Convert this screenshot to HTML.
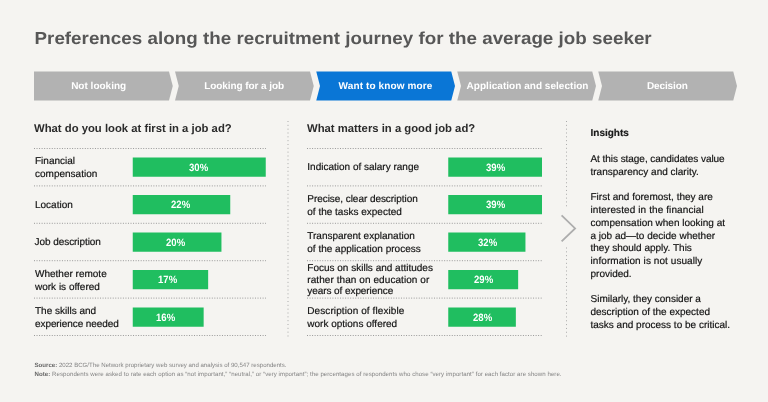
<!DOCTYPE html>
<html lang="en">
<head>
<meta charset="utf-8">
<title>Preferences along the recruitment journey</title>
<style>
*{margin:0;padding:0;box-sizing:border-box}
html,body{width:768px;height:402px;overflow:hidden;background:#f5f4f1}
body{position:relative;font-family:"Liberation Sans",Arial,sans-serif;color:#2b2b2b;text-rendering:geometricPrecision}
.abs{position:absolute;white-space:nowrap}
#title{left:34.5px;top:27px;font-size:18.8px;letter-spacing:0.02px;line-height:22px;font-weight:bold;color:#575757;transform-origin:0 17.5px;transform:scaleY(.925)}
#wrap{position:absolute;left:0;top:0;width:768px;height:402px;will-change:transform}
svg.layer{position:absolute;left:0;top:0;width:768px;height:402px}
.step{position:absolute;top:71.5px;height:29.5px;line-height:29.5px;font-size:10px;font-weight:bold;color:#fff;text-align:center;white-space:nowrap}
.h{font-size:11.3px;font-weight:bold;line-height:14px;color:#2b2b2b}
.lbl{font-size:10px;line-height:12.75px;color:#111;-webkit-text-stroke:0.18px #111;position:absolute;white-space:nowrap}
.bar{position:absolute;height:19.25px;color:#fff;font-weight:bold;font-size:10.6px;line-height:19.25px;text-align:center}
.bar span{display:inline-block;transform:scaleX(.9)}
.ins{position:absolute;left:590.5px;font-size:10px;line-height:12.75px;color:#111;-webkit-text-stroke:0.18px #111;white-space:nowrap}
.foot{position:absolute;left:34.5px;font-size:6.1px;line-height:8px;color:#848484;white-space:nowrap}
.foot b{color:#666}
</style>
</head>
<body>
<div id="wrap">
<div id="title" class="abs">Preferences along the recruitment journey for the average job seeker</div>

<svg class="layer" viewBox="0 0 768 402">
  <g fill="#b2b2b2">
    <polygon points="34,71.5 169,71.5 172.75,86.05 169,100.6 34,100.6"/>
    <polygon points="175,71.5 310,71.5 313.75,86.05 310,100.6 175,100.6 178.75,86.05"/>
    <polygon fill="#0a76d6" points="316.25,71.5 451.25,71.5 455,86.05 451.25,100.6 316.25,100.6 320,86.05"/>
    <polygon points="457.25,71.5 592.25,71.5 596,86.05 592.25,100.6 457.25,100.6 461,86.05"/>
    <polygon points="598.25,71.5 733.25,71.5 737,86.05 733.25,100.6 598.25,100.6 602,86.05"/>
  </g>
  <g stroke="#999" stroke-width="1" stroke-dasharray="1 1.54" fill="none">
    <line x1="34" y1="148.5" x2="266" y2="148.5"/>
    <line x1="34" y1="185.9" x2="266" y2="185.9"/>
    <line x1="34" y1="223.3" x2="266" y2="223.3"/>
    <line x1="34" y1="260.7" x2="266" y2="260.7"/>
    <line x1="34" y1="298.1" x2="266" y2="298.1"/>
    <line x1="34" y1="335.5" x2="266" y2="335.5"/>
    <line x1="307" y1="148.5" x2="542" y2="148.5"/>
    <line x1="307" y1="185.9" x2="542" y2="185.9"/>
    <line x1="307" y1="223.3" x2="542" y2="223.3"/>
    <line x1="307" y1="260.7" x2="542" y2="260.7"/>
    <line x1="307" y1="298.1" x2="542" y2="298.1"/>
    <line x1="307" y1="335.5" x2="542" y2="335.5"/>
  </g>
  <g stroke="#aaa" stroke-width="1" stroke-dasharray="1 2.83" fill="none">
    <line x1="288" y1="121" x2="288" y2="337"/>
    <line x1="566.5" y1="121" x2="566.5" y2="207"/>
    <line x1="566.5" y1="247.5" x2="566.5" y2="337"/>
  </g>
  <g fill="#20be60">
    <rect x="132.75" y="157.5" width="133" height="19.25"/>
    <rect x="132.75" y="195" width="97.5" height="19.25"/>
    <rect x="132.75" y="232.5" width="88.7" height="19.25"/>
    <rect x="132.75" y="270" width="75.4" height="19.25"/>
    <rect x="132.75" y="307.5" width="70.9" height="19.25"/>
    <rect x="448.25" y="157.5" width="93.75" height="19.25"/>
    <rect x="448.25" y="195" width="93.75" height="19.25"/>
    <rect x="448.25" y="232.5" width="77.2" height="19.25"/>
    <rect x="448.25" y="270" width="69.9" height="19.25"/>
    <rect x="448.25" y="307.5" width="67.6" height="19.25"/>
  </g>
  <polyline points="561.6,215.4 575.1,228.4 561.6,241.4" fill="none" stroke="#adadad" stroke-width="1.8"/>
</svg>

<div class="step" style="left:71.15px;letter-spacing:0.005px;text-align:left">Not looking</div>
<div class="step" style="left:204.20px;letter-spacing:-0.073px;text-align:left">Looking for a job</div>
<div class="step" style="left:338.6px;letter-spacing:0.116px;text-align:left">Want to know more</div>
<div class="step" style="left:466.60px;letter-spacing:0.030px;text-align:left">Application and selection</div>
<div class="step" style="left:646.90px;letter-spacing:-0.111px;text-align:left">Decision</div>

<div class="abs h" style="left:34px;top:121.5px">What do you look at first in a job ad?</div>
<div class="abs h" style="left:307px;top:121.5px">What matters in a good job ad?</div>

<!-- left chart -->
<div class="lbl" style="left:35px;top:156.4px">Financial<br>compensation</div>
<div class="bar" style="left:132.75px;top:158.5px;width:133px;padding-right:1px"><span>30%</span></div>
<div class="lbl" style="left:35px;top:200px">Location</div>
<div class="bar" style="left:132.75px;top:196px;width:97.5px;padding-right:2.8px"><span>22%</span></div>
<div class="lbl" style="left:34.6px;top:237.3px"><span style="letter-spacing:-0.07px">Job description</span></div>
<div class="bar" style="left:132.75px;top:233.5px;width:88.7px;padding-right:3.4px"><span>20%</span></div>
<div class="lbl" style="left:35px;top:268.9px">Whether remote<br>work is offered</div>
<div class="bar" style="left:132.75px;top:271px;width:75.4px;padding-right:4.9px"><span>17%</span></div>
<div class="lbl" style="left:35px;top:306.4px">The skills and<br><span style="letter-spacing:-0.08px">experience needed</span></div>
<div class="bar" style="left:132.75px;top:308.5px;width:70.9px;padding-right:4.9px"><span>16%</span></div>

<!-- right chart -->
<div class="lbl" style="left:307.3px;top:162.3px">Indication of salary range</div>
<div class="bar" style="left:448.25px;top:158.5px;width:93.75px"><span>39%</span></div>
<div class="lbl" style="left:307.3px;top:193.9px"><span style="letter-spacing:-0.05px">Precise, clear description</span><br>of the tasks expected</div>
<div class="bar" style="left:448.25px;top:196px;width:93.75px"><span>39%</span></div>
<div class="lbl" style="left:307.3px;top:231.3px">Transparent explanation<br>of the application process</div>
<div class="bar" style="left:448.25px;top:233.5px;width:77.2px;padding-left:1px"><span>32%</span></div>
<div class="lbl" style="left:307.3px;top:263.4px;line-height:11.4px">Focus on skills and attitudes<br><span style="letter-spacing:0.075px">rather than on education or</span><br><span style="letter-spacing:-0.075px">years of experience</span></div>
<div class="bar" style="left:448.25px;top:271px;width:69.9px"><span>29%</span></div>
<div class="lbl" style="left:307.3px;top:306.4px"><span style="letter-spacing:0.09px">Description of flexible</span><br>work options offered</div>
<div class="bar" style="left:448.25px;top:308.5px;width:67.6px;padding-left:1.6px"><span>28%</span></div>

<!-- insights -->
<div class="ins" style="top:128.2px;font-weight:bold;color:#1a1a1a">Insights</div>
<div class="ins" style="top:154.2px"><span style="letter-spacing:-0.05px">At this stage, candidates value</span><br>transparency and clarity.<br><br>First and foremost, they are<br><span style="letter-spacing:0.1px">interested in the financial</span><br>compensation when looking at<br>a job ad—to decide whether<br>they should apply. This<br><span style="letter-spacing:0.07px">information is not usually</span><br>provided.<br><br>Similarly, they consider a<br>description of the expected<br>tasks and process to be critical.</div>

<div class="foot" style="top:362.4px"><b>Source:</b> 2022 BCG/The Network proprietary web survey and analysis of 90,547 respondents.</div>
<div class="foot" style="top:370.5px;letter-spacing:0.052px"><b>Note:</b> Respondents were asked to rate each option as “not important,” “neutral,” or “very important”; the percentages of respondents who chose “very important” for each factor are shown here.</div>
</div>
</body>
</html>
